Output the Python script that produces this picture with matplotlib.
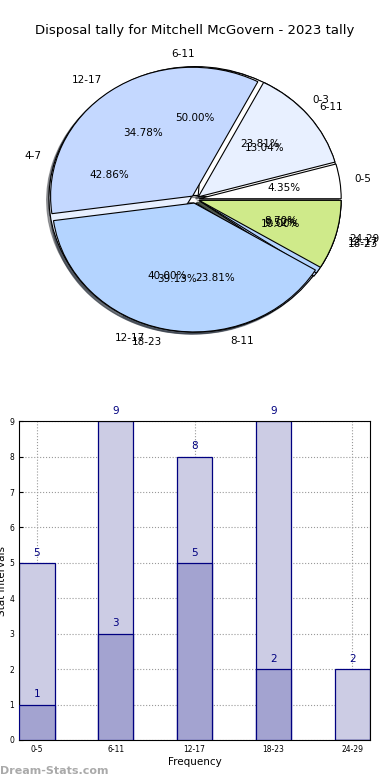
import matplotlib
matplotlib.use("Agg")
import matplotlib.pyplot as plt
import numpy as np

title = "Disposal tally for Mitchell McGovern - 2023 tally"

# three overlaid pies
pie_c_labels = ["6-11", "12-17", "18-23"]
pie_c_values = [5, 4, 1]
pie_b_labels = ["0-3", "4-7", "8-11", "12-17"]
pie_b_values = [5, 9, 5, 2]
pie_a_labels = ["0-5", "6-11", "12-17", "18-23", "24-29"]
pie_a_values = [1, 3, 8, 9, 2]

pie_colors = ["#ffffff", "#e8f0ff", "#c4d8ff", "#b4d4ff", "#cfea8a"]

# bar chart
categories = ["0-5", "6-11", "12-17", "18-23", "24-29"]
light_values = [5, 9, 8, 9, 2]
dark_values = [1, 3, 5, 2, 0]

fig = plt.figure(figsize=(3.9, 7.8), dpi=100)

ax1 = fig.add_axes([0.045, 0.538, 0.91, 0.413])
for vals, labs in [(pie_c_values, pie_c_labels), (pie_b_values, pie_b_labels), (pie_a_values, pie_a_labels)]:
    ax1.pie(vals, labels=labs, colors=pie_colors[:len(vals)], explode=[0.03] * len(vals),
            autopct="%.2f%%", shadow={"ox": -0.012, "oy": -0.012},
            wedgeprops={"edgecolor": "black", "linewidth": 0.8},
            textprops={"fontsize": 7.5})
ax1.set_xlim(-1.25, 1.25)
ax1.set_ylim(-1.25, 1.25)
ax1.set_aspect("auto")
fig.text(0.5, 0.961, title, ha="center", va="center", fontsize=9.5)

ax2 = fig.add_axes([0.049, 0.0513, 0.9, 0.4087])
x = np.arange(len(categories))
ax2.bar(x, light_values, width=0.45, color="#ccccE4", edgecolor="navy", linewidth=0.9, zorder=2)
ax2.bar(x, dark_values, width=0.45, color="#a3a3d0", edgecolor="navy", linewidth=0.9, zorder=3)
for xi, v in zip(x, light_values):
    ax2.text(xi, v + 0.15, str(v), ha="center", va="bottom", color="navy", fontsize=7.5, clip_on=False)
for xi, v in zip(x, dark_values):
    if v > 0:
        ax2.text(xi, v + 0.15, str(v), ha="center", va="bottom", color="navy", fontsize=7.5)
ax2.set_xlim(-0.225, 4.225)
ax2.set_ylim(0, 9)
ax2.set_yticks(range(10))
ax2.set_xticks(x)
ax2.set_xticklabels(categories)
ax2.tick_params(direction="in", labelsize=5.5, length=3)
ax2.grid(True, linestyle=":", color="#999999", linewidth=0.8, zorder=0)
ax2.set_axisbelow(True)
ax2.set_xlabel("Frequency", fontsize=7.5, labelpad=2)
ax2.set_ylabel("Stat Intervals", fontsize=7.5, labelpad=2)

fig.text(0.0, 0.012, "Dream-Stats.com", color="#aaaaaa", fontsize=8, fontweight="bold", ha="left", va="center")

fig.savefig("out.png", dpi=100)
